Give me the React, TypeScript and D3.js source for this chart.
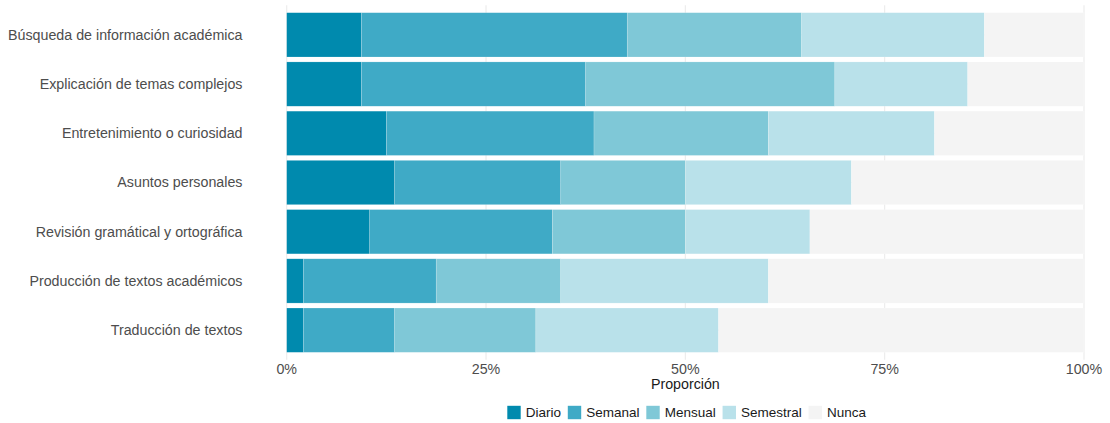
import React from "react";
import * as d3 from "d3";

const categories = [
  "Búsqueda de información académica",
  "Explicación de temas complejos",
  "Entretenimiento o curiosidad",
  "Asuntos personales",
  "Revisión gramátical y ortográfica",
  "Producción de textos académicos",
  "Traducción de textos",
];

const seriesNames = ["Diario", "Semanal", "Mensual", "Semestral", "Nunca"];

// proportions (n = 96)
const diario = [9 / 96, 9 / 96, 12 / 96, 13 / 96, 10 / 96, 2 / 96, 2 / 96];
const semanal = [32 / 96, 27 / 96, 25 / 96, 20 / 96, 22 / 96, 16 / 96, 11 / 96];
const mensual = [21 / 96, 30 / 96, 21 / 96, 15 / 96, 16 / 96, 15 / 96, 17 / 96];
const semestral = [22 / 96, 16 / 96, 20 / 96, 20 / 96, 15 / 96, 25 / 96, 22 / 96];
const nunca = [12 / 96, 14 / 96, 18 / 96, 28 / 96, 33 / 96, 38 / 96, 44 / 96];

const colors = ["#008aae", "#3faac6", "#7fc8d7", "#b9e1ea", "#f4f4f4"];

const xTicks = [0, 0.25, 0.5, 0.75, 1];

const W = 1110;
const H = 423;
const FONT = "'Liberation Sans', Arial, Helvetica, sans-serif";
const FS = 14.25;
const LFS = 13.5;

function measure(text: string, size: number): number {
  try {
    const c = document.createElement("canvas");
    const ctx = c.getContext("2d");
    if (ctx) {
      ctx.font = `${size}px 'Liberation Sans', Arial, sans-serif`;
      return ctx.measureText(text).width;
    }
  } catch (e) {}
  return text.length * size * 0.55;
}

export default function App() {
  const left = 286.7;
  const right = 1084;
  const x = d3.scaleLinear().domain([0, 1]).range([left, right]);
  const pitch = 49.22;
  const c0 = 34.85;
  const panelTop = c0 - 0.6 * pitch;
  const panelBottom = c0 + 6.6 * pitch;
  const y = d3
    .scaleBand<string>()
    .domain(categories)
    .range([panelTop, panelBottom])
    .paddingInner(0.1)
    .paddingOuter(0.15);

  const rows = categories.map((c, i) => ({
    cat: c,
    Diario: diario[i],
    Semanal: semanal[i],
    Mensual: mensual[i],
    Semestral: semestral[i],
    Nunca: nunca[i],
  }));
  const stack = d3.stack<any>().keys(seriesNames)(rows);
  const fmt = d3.format(".0%");

  const legendY = 412.5;
  const sq = 13.4;
  const tgap = 5;
  const legStart = 507.3;
  const legEnd = 866;
  const widths = seriesNames.map((s) => measure(s, LFS));
  const used = widths.reduce((a, b) => a + b, 0) + seriesNames.length * (sq + tgap);
  const igap = (legEnd - legStart - used) / (seriesNames.length - 1);
  const legendX: number[] = [];
  let lx = legStart;
  seriesNames.forEach((s, i) => {
    legendX.push(lx);
    lx += sq + tgap + widths[i] + igap;
  });

  return (
    <svg
      width={W}
      height={H}
      style={{ position: "absolute", left: 0, top: 0, background: "#fff" }}
      fontFamily={FONT}
    >
      {xTicks.map((t) => (
        <line
          key={"g" + t}
          x1={x(t)}
          x2={x(t)}
          y1={panelTop}
          y2={panelBottom}
          stroke="#ebebeb"
          strokeWidth={1.1}
        />
      ))}
      {categories.map((c) => (
        <line
          key={"h" + c}
          x1={left}
          x2={right}
          y1={(y(c) as number) + y.bandwidth() / 2}
          y2={(y(c) as number) + y.bandwidth() / 2}
          stroke="#ebebeb"
          strokeWidth={1.1}
        />
      ))}
      {stack.map((layer, si) =>
        layer.map((d, i) => (
          <rect
            key={si + "-" + i}
            x={x(d[0])}
            y={y(categories[i])}
            width={x(d[1]) - x(d[0])}
            height={y.bandwidth()}
            fill={colors[si]}
            stroke="#ffffff"
            strokeOpacity={0.35}
            strokeWidth={0.5}
          />
        ))
      )}
      {categories.map((c) => (
        <text
          key={"l" + c}
          x={242.5}
          y={(y(c) as number) + y.bandwidth() / 2}
          dy="0.35em"
          textAnchor="end"
          fontSize={FS}
          fill="#4d4d4d"
        >
          {c}
        </text>
      ))}
      {xTicks.map((t) => (
        <text
          key={"t" + t}
          x={x(t)}
          y={374}
          textAnchor="middle"
          fontSize={FS}
          fill="#4d4d4d"
        >
          {fmt(t)}
        </text>
      ))}
      <text x={x(0.5)} y={389} textAnchor="middle" fontSize={FS} fill="#1a1a1a">
        Proporción
      </text>
      {seriesNames.map((s, i) => (
        <g key={"lg" + s}>
          <rect
            x={legendX[i]}
            y={legendY - sq / 2}
            width={sq}
            height={sq}
            fill={colors[i]}
          />
          <text
            x={legendX[i] + sq + tgap}
            y={legendY}
            dy="0.36em"
            fontSize={LFS}
            fill="#1a1a1a"
          >
            {s}
          </text>
        </g>
      ))}
    </svg>
  );
}
